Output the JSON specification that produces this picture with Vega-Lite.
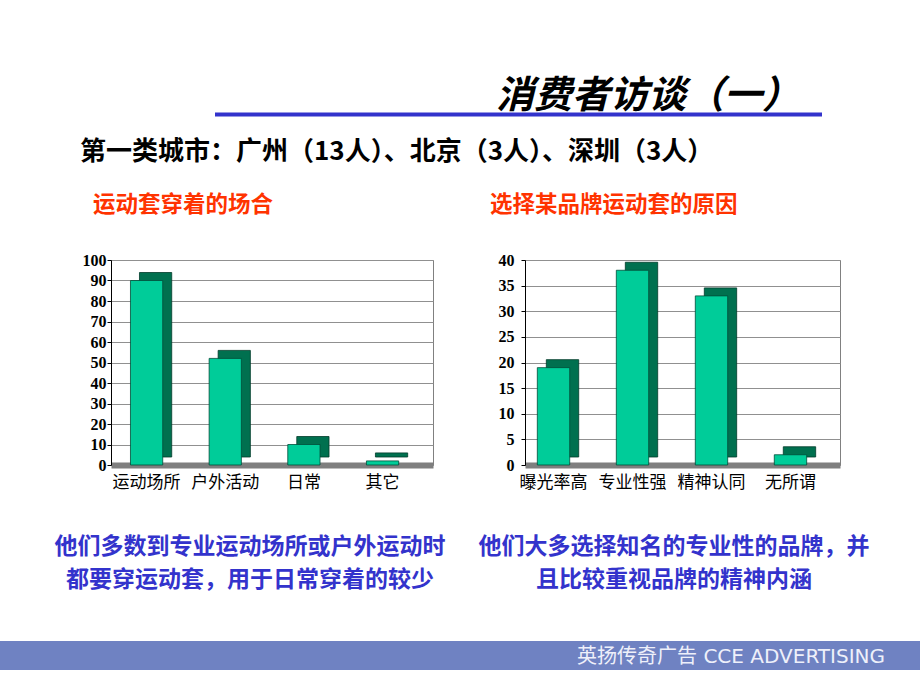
{
  "$schema": "https://vega.github.io/schema/vega-lite/v6.json",
  "background": "white",
  "padding": {"left": 0, "right": 0, "top": 77.5, "bottom": 20},
  "config": {
    "font": "Noto Sans CJK SC",
    "view": {"stroke": null},
    "axisY": {
      "grid": true, "gridColor": "#909090", "gridWidth": 1,
      "domainColor": "black", "tickColor": "black", "tickSize": 4,
      "labelFont": "Liberation Serif", "labelFontSize": 16, "labelFontWeight": "bold", "labelColor": "black",
      "title": null
    },
    "axisX": {
      "grid": false, "ticks": false, "tickSize": 0, "labelAngle": 0, "labelPadding": 9.5,
      "labelFont": "Noto Sans CJK SC", "labelFontSize": 17, "labelColor": "black",
      "domainColor": "#7f7f7f", "domainWidth": 6,
      "titleFont": "Noto Sans CJK SC", "titleFontSize": 23, "titleFontWeight": "bold", "titleColor": "#3333cc",
      "titleLineHeight": 33, "titlePadding": 44.5, "titleAlign": "center"
    }
  },
  "spacing": 49.5,
  "vconcat": [
    {
      "spacing": 19.5,
      "vconcat": [
        {
          "spacing": 0,
          "hconcat": [
            {"width": 215, "height": 4, "data": {"values": [{}]}, "mark": "text", "encoding": {}},
            {
              "width": 607, "height": 4, "data": {"values": [{}]}, "mark": "text", "encoding": {},
              "view": {"fill": "#3333cc", "stroke": null},
              "title": {"text": "消费者访谈（一）", "anchor": "end", "dx": -22, "offset": -7.5,
                "font": "Noto Sans CJK SC", "fontSize": 38, "fontWeight": "bold", "fontStyle": "italic", "color": "black"}
            }
          ]
        },
        {
          "title": {"text": "第一类城市：广州（13人）、北京（3人）、深圳（3人）", "anchor": "start", "frame": "bounds", "dx": 80,
            "offset": 28, "font": "Noto Sans CJK SC", "fontSize": 26, "fontWeight": "bold", "color": "black"},
          "spacing": 31,
          "hconcat": [
            {"width": 22, "height": 1, "data": {"values": [{}]}, "mark": "text", "encoding": {}},
            {
              "width": 322, "height": 205,
              "title": {"text": "运动套穿着的场合", "anchor": "start", "frame": "group", "dx": -18, "offset": 35.8,
                "font": "Noto Sans CJK SC", "fontSize": 22.5, "fontWeight": "bold", "color": "#ff3300"},
              "view": {"stroke": "#808080", "strokeWidth": 1},
              "data": {"values": [
                {"场合": "运动场所", "比例": 90},
                {"场合": "户外活动", "比例": 52},
                {"场合": "日常", "比例": 10},
                {"场合": "其它", "比例": 2}
              ]},
              "encoding": {
                "x": {"field": "场合", "type": "nominal", "sort": null,
                  "scale": {"paddingInner": 0.59, "paddingOuter": 0.342, "align": 0.362},
                  "axis": {"title": ["他们多数到专业运动场所或户外运动时", "都要穿运动套，用于日常穿着的较少"], "titleX": 138.5}},
                "y": {"field": "比例", "type": "quantitative", "scale": {"domain": [0, 100], "nice": false},
                  "axis": {"values": [0, 10, 20, 30, 40, 50, 60, 70, 80, 90, 100], "labelPadding": 1}}
              },
              "layer": [
                {"mark": {"type": "bar", "color": "#00704f", "xOffset": 9, "yOffset": -8, "y2Offset": -8, "stroke": "#003b2a", "strokeWidth": 0.8}},
                {"mark": {"type": "bar", "color": "#00cc99", "stroke": "#004d38", "strokeWidth": 0.8}}
              ]
            },
            {
              "width": 315, "height": 205,
              "title": {"text": "选择某品牌运动套的原因", "anchor": "start", "frame": "group", "dx": -35, "offset": 35.8,
                "font": "Noto Sans CJK SC", "fontSize": 22.5, "fontWeight": "bold", "color": "#ff3300"},
              "view": {"stroke": "#808080", "strokeWidth": 1},
              "data": {"values": [
                {"原因": "曝光率高", "比例": 19},
                {"原因": "专业性强", "比例": 38},
                {"原因": "精神认同", "比例": 33},
                {"原因": "无所谓", "比例": 2}
              ]},
              "encoding": {
                "x": {"field": "原因", "type": "nominal", "sort": null,
                  "scale": {"paddingInner": 0.59, "paddingOuter": 0.289, "align": 0.27},
                  "axis": {"title": ["他们大多选择知名的专业性的品牌，并", "且比较重视品牌的精神内涵"], "titleX": 148.5}},
                "y": {"field": "比例", "type": "quantitative", "scale": {"domain": [0, 40], "nice": false},
                  "axis": {"values": [0, 5, 10, 15, 20, 25, 30, 35, 40], "labelPadding": 7}}
              },
              "layer": [
                {"mark": {"type": "bar", "color": "#00704f", "xOffset": 9, "yOffset": -8, "y2Offset": -8, "stroke": "#003b2a", "strokeWidth": 0.8}},
                {"mark": {"type": "bar", "color": "#00cc99", "stroke": "#004d38", "strokeWidth": 0.8}}
              ]
            }
          ]
        }
      ]
    },
    {
      "width": 920, "height": 29, "data": {"values": [{}]}, "mark": "text", "encoding": {},
      "view": {"fill": "#6f82c2", "stroke": null},
      "title": {"text": "英扬传奇广告    CCE ADVERTISING", "anchor": "end", "dx": -35, "offset": -25.5,
        "font": "DejaVu Sans, Noto Sans CJK SC", "fontSize": 20, "fontWeight": "normal", "color": "#eef0fa"}
    }
  ]
}
